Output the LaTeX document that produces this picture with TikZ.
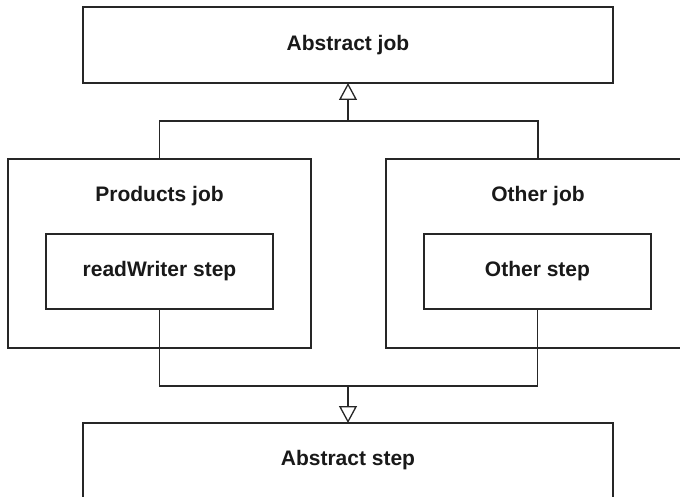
\documentclass[tikz,border=0pt]{standalone}
\usepackage{fontspec}
\setmainfont{Liberation Sans}
\usetikzlibrary{arrows.meta}
\definecolor{ln}{HTML}{262626}
\begin{document}
\begin{tikzpicture}[x=1bp,y=-1bp,
  box/.style={draw=ln,line width=1.3bp,rectangle,inner sep=0pt,outer sep=0pt,fill=white},
  lbl/.style={font=\fontsize{21bp}{25bp}\selectfont\bfseries,text=black!90,inner sep=0pt},
  conn/.style={draw=ln,line width=1.3bp},
  inh/.style={conn,-{Triangle[open,length=17bp,width=18bp]}}]
\useasboundingbox (0,0) rectangle (680,497);
\clip (0,0) rectangle (680,497);
% boxes
\node[box,minimum width=530bp,minimum height=76bp] (abs) at (348,45) {};
\node[lbl] (abst) at (348,45) {Abstract job};
\node[box,minimum width=303bp,minimum height=189bp] (prod) at (159.5,253.5) {};
\node[lbl] (prodt) at (159.5,196) {Products job};
\node[box,minimum width=227bp,minimum height=75bp] (rw) at (159.5,271.5) {};
\node[lbl] (rwt) at (159.5,271.5) {readWriter step};
\node[box,minimum width=304bp,minimum height=189bp] (other) at (538,253.5) {};
\node[lbl] (othert) at (538,196) {Other job};
\node[box,minimum width=227bp,minimum height=75bp] (ostep) at (537.5,271.5) {};
\node[lbl] (ostept) at (537.5,271.5) {Other step};
\node[box,minimum width=530bp,minimum height=100bp] (absstep) at (348,473) {};
\node[lbl] (absstept) at (348,460) {Abstract step};
% connectors
\coordinate (j1) at (348,121);
\coordinate (j2) at (348,386);
\draw[conn] (prod.north) |- (j1) -| (other.north);
\draw[inh] (j1) -- (abs.south);
\draw[conn] (rw.south) |- (j2) -| (ostep.south);
\draw[inh] (j2) -- (absstep.north);
\end{tikzpicture}
\end{document}
